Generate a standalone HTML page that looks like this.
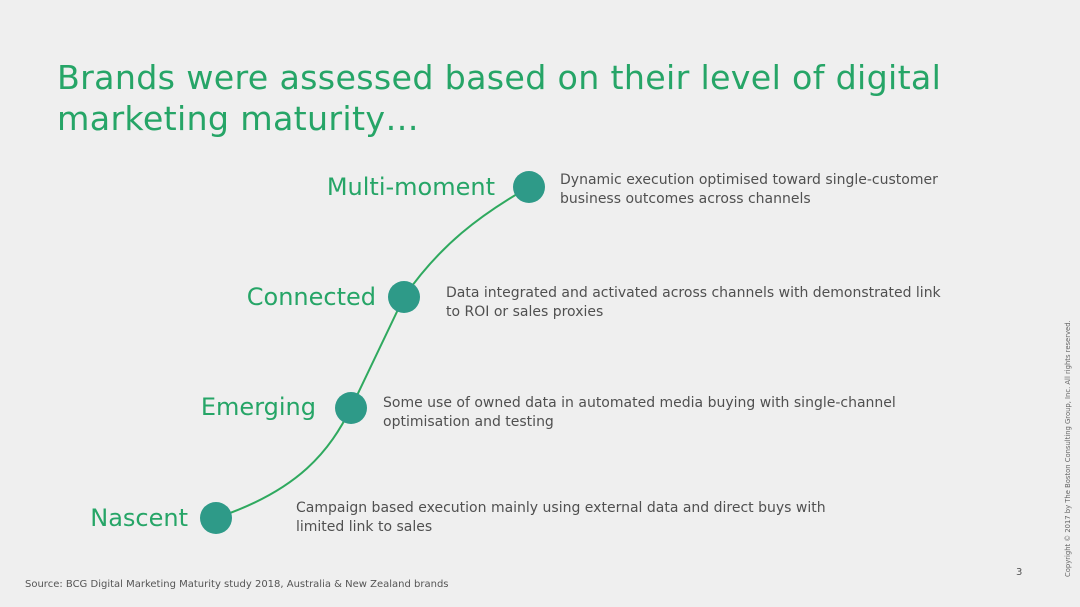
<!DOCTYPE html>
<html><head><style>
body{margin:0;width:1080px;height:607px;background:#efefef;position:relative;overflow:hidden;font-family:"DejaVu Sans","Liberation Sans",sans-serif}
.t{position:absolute;left:57px;top:57px;font-size:33.3px;line-height:41px;color:#26a567;letter-spacing:0.3px}
.l{position:absolute;font-size:24px;color:#26a567;white-space:nowrap}
.d{position:absolute;font-size:14px;line-height:19px;color:#505050;white-space:nowrap}
.s{position:absolute;left:25px;top:579px;font-size:10px;color:#555}
.c{position:absolute;left:1064px;top:577px;transform:rotate(-90deg);transform-origin:0 0;font-size:6.8px;color:#666;white-space:nowrap}
</style></head><body>
<div class="t">Brands were assessed based on their level of digital<br>marketing maturity…</div>
<svg width="1080" height="607" style="position:absolute;left:0;top:0">
<path d="M216 518 C300 490 330 450 351 408 L404 297 C440 245 480 215 529 187" fill="none" stroke="#2fa95f" stroke-width="2"/>
<g fill="#2e9a88"><circle cx="529" cy="187" r="16"/><circle cx="404" cy="297" r="16"/><circle cx="351" cy="408" r="16"/><circle cx="216" cy="518" r="16"/></g>
</svg>
<div class="l" style="right:585px;top:173px">Multi-moment</div>
<div class="l" style="right:704px;top:283px">Connected</div>
<div class="l" style="right:764px;top:393px">Emerging</div>
<div class="l" style="right:892px;top:504px">Nascent</div>
<div class="d" style="left:560px;top:171px">Dynamic execution optimised toward single-customer<br>business outcomes across channels</div>
<div class="d" style="left:446px;top:284px">Data integrated and activated across channels with demonstrated link<br>to ROI or sales proxies</div>
<div class="d" style="left:383px;top:394px">Some use of owned data in automated media buying with single-channel<br>optimisation and testing</div>
<div class="d" style="left:296px;top:499px">Campaign based execution mainly using external data and direct buys with<br>limited link to sales</div>
<div class="s">Source: BCG Digital Marketing Maturity study 2018, Australia &amp; New Zealand brands</div>
<div style="position:absolute;left:1016px;top:567px;font-size:10px;color:#555">3</div>
<div class="c">Copyright © 2017 by The Boston Consulting Group, Inc. All rights reserved.</div>
</body></html>
